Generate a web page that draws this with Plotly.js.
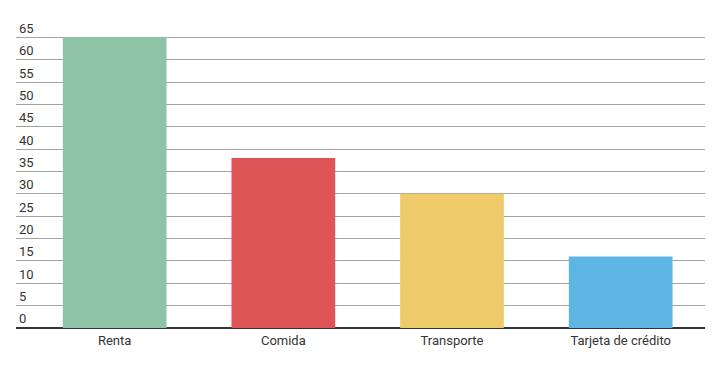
<!DOCTYPE html>
<html>
<head>
<meta charset="utf-8">
<script src="https://cdn.plot.ly/plotly-3.0.1.min.js"></script>
<style>html,body{margin:0;padding:0;background:#fff;}#chart{width:719px;height:372px;}</style>
</head>
<body>
<div id="chart"></div>
<script>
const categories = ["Renta", "Comida", "Transporte", "Tarjeta de crédito"];
const values = [65, 38, 30, 16];
const barColors = ["#8fc3a8", "#df5457", "#f0cb6b", "#5db5e2"];
const yTicks = [0,5,10,15,20,25,30,35,40,45,50,55,60,65];

Plotly.newPlot("chart", [{
  type: "bar",
  x: categories,
  y: values,
  marker: {color: barColors},
  hoverinfo: "skip"
}], {
  width: 719, height: 372,
  margin: {l: 16, r: 14, t: 15, b: 44},
  paper_bgcolor: "#fff", plot_bgcolor: "#fff",
  bargap: 0.385,
  font: {family: "Roboto, sans-serif", size: 13, color: "#333"},
  xaxis: {
    type: "category",
    range: [-0.585, 3.5],
    showgrid: false,
    ticks: "",
    showline: false,
    ticklabelstandoff: 3,
    tickfont: {size: 13, color: "#333"}
  },
  yaxis: {
    range: [0, 70],
    tickvals: yTicks,
    ticklabelposition: "inside top",
    showgrid: true,
    gridcolor: "#a3a3a3",
    gridwidth: 1,
    zeroline: true,
    zerolinecolor: "#333",
    zerolinewidth: 2,
    showline: false,
    ticks: "",
    tickfont: {size: 13, color: "#333"}
  },
  showlegend: false
}, {staticPlot: true});
</script>
</body>
</html>
